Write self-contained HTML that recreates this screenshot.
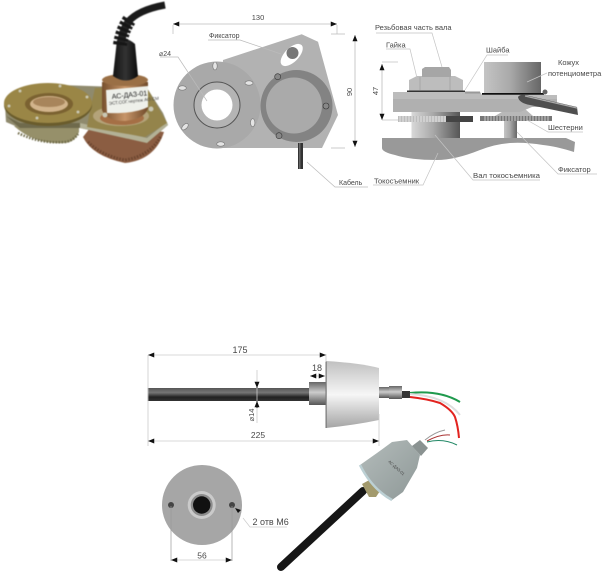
<!DOCTYPE html>
<html><head><meta charset="utf-8"><style>html,body{margin:0;padding:0;background:#fff}svg{display:block}text{font-family:"Liberation Sans",sans-serif;fill:#484848}</style></head><body>
<svg width="605" height="579" viewBox="0 0 605 579" xmlns="http://www.w3.org/2000/svg">
<defs>
<linearGradient id="cu" x1="0" x2="1" y1="0" y2="0"><stop offset="0" stop-color="#77502d"/><stop offset=".5" stop-color="#c79569"/><stop offset="1" stop-color="#704a2a"/></linearGradient>
<linearGradient id="blk" x1="0" x2="1" y1="0" y2="0"><stop offset="0" stop-color="#111"/><stop offset=".5" stop-color="#333"/><stop offset="1" stop-color="#0a0a0a"/></linearGradient>
<linearGradient id="cyl" x1="0" x2="1" y1="0" y2="0"><stop offset="0" stop-color="#d8d8d8"/><stop offset=".45" stop-color="#a8a8a8"/><stop offset="1" stop-color="#555"/></linearGradient>
<linearGradient id="cyl2" x1="0" x2="1" y1="0" y2="0"><stop offset="0" stop-color="#c4c4c4"/><stop offset=".45" stop-color="#aaa"/><stop offset="1" stop-color="#666"/></linearGradient>
<linearGradient id="rod" x1="0" x2="0" y1="0" y2="1"><stop offset="0" stop-color="#555"/><stop offset=".35" stop-color="#777"/><stop offset=".7" stop-color="#222"/><stop offset="1" stop-color="#333"/></linearGradient>
<linearGradient id="body" x1="0" x2="0" y1="0" y2="1"><stop offset="0" stop-color="#c0c0c0"/><stop offset=".5" stop-color="#f6f6f6"/><stop offset="1" stop-color="#a4a4a4"/></linearGradient>
<linearGradient id="met" x1="0" x2="0" y1="0" y2="1"><stop offset="0" stop-color="#666"/><stop offset=".45" stop-color="#ccc"/><stop offset="1" stop-color="#555"/></linearGradient>
<linearGradient id="gry" x1="0" x2="1" y1="0" y2="1"><stop offset="0" stop-color="#b4bcbb"/><stop offset="1" stop-color="#8e9897"/></linearGradient>
<marker id="a" viewBox="0 0 10 8" refX="10" refY="4" markerWidth="7" markerHeight="5" markerUnits="userSpaceOnUse" orient="auto-start-reverse"><path d="M0 0L10 4L0 8z" fill="#111"/></marker>
</defs>

<!-- photo -->
<g style="filter:blur(.4px)">
<path d="M14 126 Q35 145 65 143 Q75 142 79 132 L79 126z" fill="#96906a"/>
<path d="M18 133 Q40 144 65 142 Q73 141 78 134" fill="none" stroke="#6e6a48" stroke-width="2.500" stroke-dasharray="1.500 1.500"/>
<path d="M83 137 Q92 156 125 163 Q155 160 164 132 L150 130 L90 128z" fill="#8b5d42"/>
<path d="M88 142 Q102 156 125 160 Q150 156 161 136" fill="none" stroke="#6b452f" stroke-width="3" stroke-dasharray="1.500 1.500"/>
<path d="M5 105 L6 122 L20 128 L80 128 L147 143 L168 125 L163 113 L147 88 L60 85z" fill="#8f8a6d"/>
<path d="M80 123 L147 138 L167 122 L168 125 L147 143 L80 128z" fill="#b3b196"/>
<path d="M6 116 L20 128 L80 128 L80 123 L20 123z" fill="#6f6a4c"/>
<path d="M95 88 L147 88 L167 123 L145 137 L87 127 L90 110z" fill="#94844b"/>
<ellipse cx="48" cy="105" rx="44" ry="21" fill="#6a5c2c"/>
<ellipse cx="48" cy="103" rx="44" ry="20" fill="#9a8646"/>
<ellipse cx="49" cy="104" rx="24" ry="11" fill="#7b6231"/>
<ellipse cx="49" cy="104" rx="19" ry="8" fill="#d2b48c"/>
<ellipse cx="49" cy="102" rx="16" ry="5" fill="#a8855b"/>
<ellipse cx="121" cy="116" rx="28" ry="10" fill="#b4a37a"/>
<ellipse cx="122" cy="118" rx="22" ry="7" fill="#a56f45"/>
<path d="M102 82 L102 110 Q106 121 125 121 Q145 119 148 108 L148 82z" fill="url(#cu)"/>
<ellipse cx="125" cy="80" rx="23" ry="6" fill="#9a6f45"/>
<path d="M106 90 L148 86 L148 107 Q135 114 107 113z" fill="#eef0ea"/>
<path d="M117 40 L113 76 Q126 85 138 76 L135 44 Q126 36 117 40z" fill="url(#blk)"/>
<path d="M121 45 Q122 30 130 20" fill="none" stroke="#222" stroke-width="8"/>
<path d="M120 45 Q122 30 130 19" fill="none" stroke="#161616" stroke-width="14" stroke-dasharray="3 1.800"/>
<path d="M128 22 Q138 10 165 5" fill="none" stroke="#1b1b1b" stroke-width="7"/>
<text x="112" y="99" font-size="7" transform="rotate(-6 112 99)" style="fill:#222">АС-ДАЗ-01</text>
<text x="109" y="105" font-size="4.500" transform="rotate(-6 109 105)">ЭСТ.СОГ.чертеж АО.СМ</text>
<g fill="#c9c7b4"><circle cx="9" cy="106" r="1.500"/><circle cx="37" cy="118" r="1.500"/><circle cx="78" cy="112" r="1.500"/><circle cx="87" cy="97" r="1.500"/><circle cx="20" cy="91" r="1.500"/><circle cx="60" cy="86" r="1.500"/><circle cx="105" cy="115" r="2.500"/><circle cx="151" cy="109" r="2.500"/></g>
</g>

<!-- plate view -->
<path d="M223 60 L301.7 34.3 L318 41.7 L338 115 L322 148 L217 148z" fill="#b2b2b2"/>
<circle cx="217" cy="105" r="43.500" fill="#a9a9a9"/>
<circle cx="217" cy="105" r="23" fill="#b4b4b4" stroke="#555" stroke-width="1"/>
<circle cx="217" cy="105" r="15.500" fill="#fff"/>
<g fill="#e4e4e4" stroke="#777" stroke-width=".6"><ellipse cx="215" cy="66" rx="2.200" ry="4"/><ellipse cx="249" cy="83" rx="4" ry="2.200"/><ellipse cx="252.700" cy="122.700" rx="2.200" ry="4"/><ellipse cx="220.700" cy="144" rx="4" ry="2.200"/><ellipse cx="185" cy="126.700" rx="2.200" ry="4" transform="rotate(45 185 126.700)"/><ellipse cx="182.300" cy="88" rx="4" ry="2.200"/></g>
<ellipse cx="291.700" cy="55" rx="14" ry="7" transform="rotate(-45 291.700 55)" fill="#fff"/>
<circle cx="292.500" cy="53" r="6" fill="#777"/>
<circle cx="296.500" cy="106" r="36" fill="#838383"/>
<circle cx="294" cy="105.500" r="28" fill="#aaa"/>
<g fill="#888" stroke="#333" stroke-width=".6"><circle cx="277.700" cy="76.700" r="3"/><circle cx="326" cy="106" r="3"/><circle cx="279" cy="135.700" r="3"/></g>
<rect x="298" y="143" width="5" height="26" fill="#333"/>
<rect x="299" y="143" width="1.500" height="26" fill="#666"/>

<g fill="none" stroke="#bbb" stroke-width=".7">
<path d="M208 40H240L281 54"/>
<path d="M160 57H178L207 101"/>
<path d="M307 162L335 187H368"/>
<path d="M173 25V34M337 25V34M331 34H345M331 148H345"/>
</g>
<g fill="none" stroke="#bbb" stroke-width=".8">
<path d="M173 24H337" marker-start="url(#a)" marker-end="url(#a)"/>
<path d="M355 35V147" marker-start="url(#a)" marker-end="url(#a)"/>
</g>
<text x="258" y="20" font-size="7.500" text-anchor="middle">130</text>
<text x="0" y="0" font-size="7.500" transform="translate(350 92) rotate(-90)" text-anchor="middle" dy="2">90</text>
<text x="159" y="56" font-size="7">⌀24</text>
<text x="209" y="38" font-size="7">Фиксатор</text>
<text x="339" y="185" font-size="7">Кабель</text>

<!-- section view -->
<path d="M382 138H566L575 142L574 152Q555 146 543 145Q525 142 510 143Q495 144 480 150Q455 160 437 160Q410 160 395 155Q382 152 382 148z" fill="#999"/>
<rect x="411.500" y="110" width="48.500" height="28" fill="url(#cyl)"/>
<rect x="504" y="117" width="13" height="21" fill="url(#cyl2)"/>
<path d="M495 116L507 109H525L533 116z" fill="#b8b8b8"/>
<rect x="398" y="116" width="70" height="6" fill="#8a8a8a"/>
<rect x="398" y="116" width="48" height="6" fill="#bcbcbc"/>
<rect x="446" y="116" width="27" height="6" fill="#444"/>
<rect x="480" y="116" width="72" height="5" fill="#777"/>
<g stroke="#fff" stroke-width=".6"><path d="M400 116v6M403 116v6M406 116v6M409 116v6M412 116v6M415 116v6M418 116v6M421 116v6M424 116v6M427 116v6M430 116v6M433 116v6M436 116v6M439 116v6M442 116v6M445 116v6M485 116v5M488 116v5M491 116v5M494 116v5M497 116v5M500 116v5M503 116v5M506 116v5M509 116v5M512 116v5M515 116v5M518 116v5M521 116v5M524 116v5M527 116v5M530 116v5M533 116v5M536 116v5M539 116v5M542 116v5M545 116v5M548 116v5"/></g>
<path d="M393 92H480L482 95H557V107H532L520 112H393z" fill="#b0b0b0"/>
<path d="M393 92H480L482 95H557V99H393z" fill="#bcbcbc"/>
<rect x="407" y="90.500" width="58" height="1.500" fill="#333"/>
<rect x="465" y="91.500" width="15" height="2" fill="#999"/>
<rect x="482" y="93" width="62" height="1.800" fill="#111"/>
<path d="M409 80L417 76H455L463 80V90.500H409z" fill="#bdbdbd"/>
<path d="M420 77V90M450 77V90" stroke="#999" stroke-width=".6"/>
<path d="M422 69L425 67H449L451 70V77H422z" fill="#a6a6a6"/>
<rect x="484" y="62" width="57" height="31" fill="url(#cyl2)"/>
<circle cx="545" cy="92" r="2.500" fill="#666"/>
<path d="M518 97Q520 94 525 95L577 107L578 115L530 105Q519 103 518 97z" fill="#4f4f4f"/>
<path d="M525 96L577 108" stroke="#aaa" stroke-width="1.200"/>

<g fill="none" stroke="#c4c4c4" stroke-width=".7">
<path d="M376 33H432L442 67"/>
<path d="M386 49H410L417 78"/>
<path d="M508 55H487L465 90"/>
<path d="M547 73L527 82"/>
<path d="M583 132H548L527 120"/>
<path d="M597 174H558L517 132"/>
<path d="M540 180H473L435 135"/>
<path d="M373 185H423L438 153"/>
<path d="M382 62H398M382 120H398"/>
</g>
<path d="M382 64V120" stroke="#bbb" stroke-width=".8" fill="none" marker-start="url(#a)" marker-end="url(#a)"/>
<text x="0" y="0" font-size="7.500" transform="translate(377 91) rotate(-90)" text-anchor="middle" dy="1">47</text>
<text x="375" y="30" font-size="7.500">Резьбовая часть вала</text>
<text x="386" y="47.500" font-size="7.500">Гайка</text>
<text x="486" y="52.500" font-size="7.500">Шайба</text>
<text x="558" y="65" font-size="7.500">Кожух</text>
<text x="548" y="76" font-size="7.500">потенциометра</text>
<text x="548" y="130" font-size="7.500">Шестерни</text>
<text x="558" y="172" font-size="7.500">Фиксатор</text>
<text x="473" y="178" font-size="7.500" textLength="67" lengthAdjust="spacingAndGlyphs">Вал  токосъемника</text>
<text x="374" y="183.500" font-size="7.500">Токосъемник</text>

<!-- bottom horizontal sensor -->
<rect x="147.500" y="388" width="164" height="13" fill="url(#rod)"/>
<rect x="309" y="382" width="17" height="23" fill="url(#met)"/>
<path d="M326 361Q360 363 379 368V420Q355 425 326 428z" fill="url(#body)"/>
<rect x="325.500" y="361" width="1.200" height="67" fill="#777"/>
<rect x="379" y="387" width="10" height="11" fill="url(#met)"/>
<rect x="389" y="386" width="13" height="13" fill="url(#met)"/>
<rect x="402" y="391" width="8" height="7" fill="#333"/>
<path d="M410 393Q440 390 460 402" fill="none" stroke="#1f9a4d" stroke-width="2"/>
<path d="M410 394Q445 396 460 415" fill="none" stroke="#dedede" stroke-width="2"/>
<path d="M410 397Q428 399 440 403Q452 410 455 417Q458 426 459 438" fill="none" stroke="#e2231f" stroke-width="2"/>
<g fill="none" stroke="#ccc" stroke-width=".8">
<path d="M148 355V446M379 414V446M326 354V362"/>
<path d="M148 355H326" marker-start="url(#a)" marker-end="url(#a)"/>
<path d="M148 441H379" marker-start="url(#a)" marker-end="url(#a)"/>
<path d="M257 370V423"/>
</g>
<path d="M257 382V388" stroke="#333" marker-end="url(#a)"/>
<path d="M257 408V401" stroke="#333" marker-end="url(#a)"/>
<path d="M310 376H325" fill="none" stroke="#ccc" stroke-width=".8" marker-start="url(#a)" marker-end="url(#a)"/>
<text x="240" y="353" font-size="9" text-anchor="middle">175</text>
<text x="317" y="371" font-size="9" text-anchor="middle">18</text>
<text x="258" y="438" font-size="8.500" text-anchor="middle">225</text>
<text x="0" y="0" font-size="7.500" transform="translate(254 415) rotate(-90)" text-anchor="middle">⌀14</text>

<!-- front circle -->
<circle cx="202" cy="505" r="40" fill="#a6a6a6"/>
<circle cx="201.700" cy="505" r="14" fill="#cacaca"/>
<circle cx="201.700" cy="505" r="11" fill="#8c8c8c"/>
<circle cx="201.700" cy="505" r="8.700" fill="#111"/>
<circle cx="171" cy="505" r="3" fill="#444"/>
<circle cx="232" cy="505" r="3" fill="#444"/>
<g fill="none" stroke="#999" stroke-width=".7"><path d="M171 506V561M232 506V561"/></g>
<path d="M171 560H232" fill="none" stroke="#ccc" stroke-width=".8" marker-start="url(#a)" marker-end="url(#a)"/>
<path d="M243 518L250 527H287" fill="none" stroke="#ccc" stroke-width=".7"/>
<path d="M235 508L241 510L238 513z" fill="#111"/>
<text x="202" y="558.500" font-size="8.500" text-anchor="middle">56</text>
<text x="252.500" y="525" font-size="9">2 отв М6</text>

<!-- angled sensor -->
<path d="M281 567L363 491" stroke="#161616" stroke-width="8" stroke-linecap="round"/>
<path d="M362 484L373 478L382 488L376 497L369 497z" fill="#a39a6d"/>
<path d="M360 465L377 453L392 442L407 440L420 455L417 468L403 492L392 500Q372 489 360 465z" fill="url(#gry)"/>
<path d="M360 465Q372 489 392 500" fill="none" stroke="#bcd0d4" stroke-width="2.500"/>
<path d="M412 446L420 440L428 448L421 456z" fill="#8a9291"/>
<path d="M425 440Q435 432 445 430" fill="none" stroke="#999" stroke-width="1"/>
<path d="M427 441Q440 434 450 435" fill="none" stroke="#a33" stroke-width="1"/>
<path d="M427 442Q443 438 457 445" fill="none" stroke="#286" stroke-width="1"/>
<text x="388" y="462" font-size="4" transform="rotate(42 388 462)" style="fill:#444">АС-ДАЗ-01</text>
</svg>
</body></html>
